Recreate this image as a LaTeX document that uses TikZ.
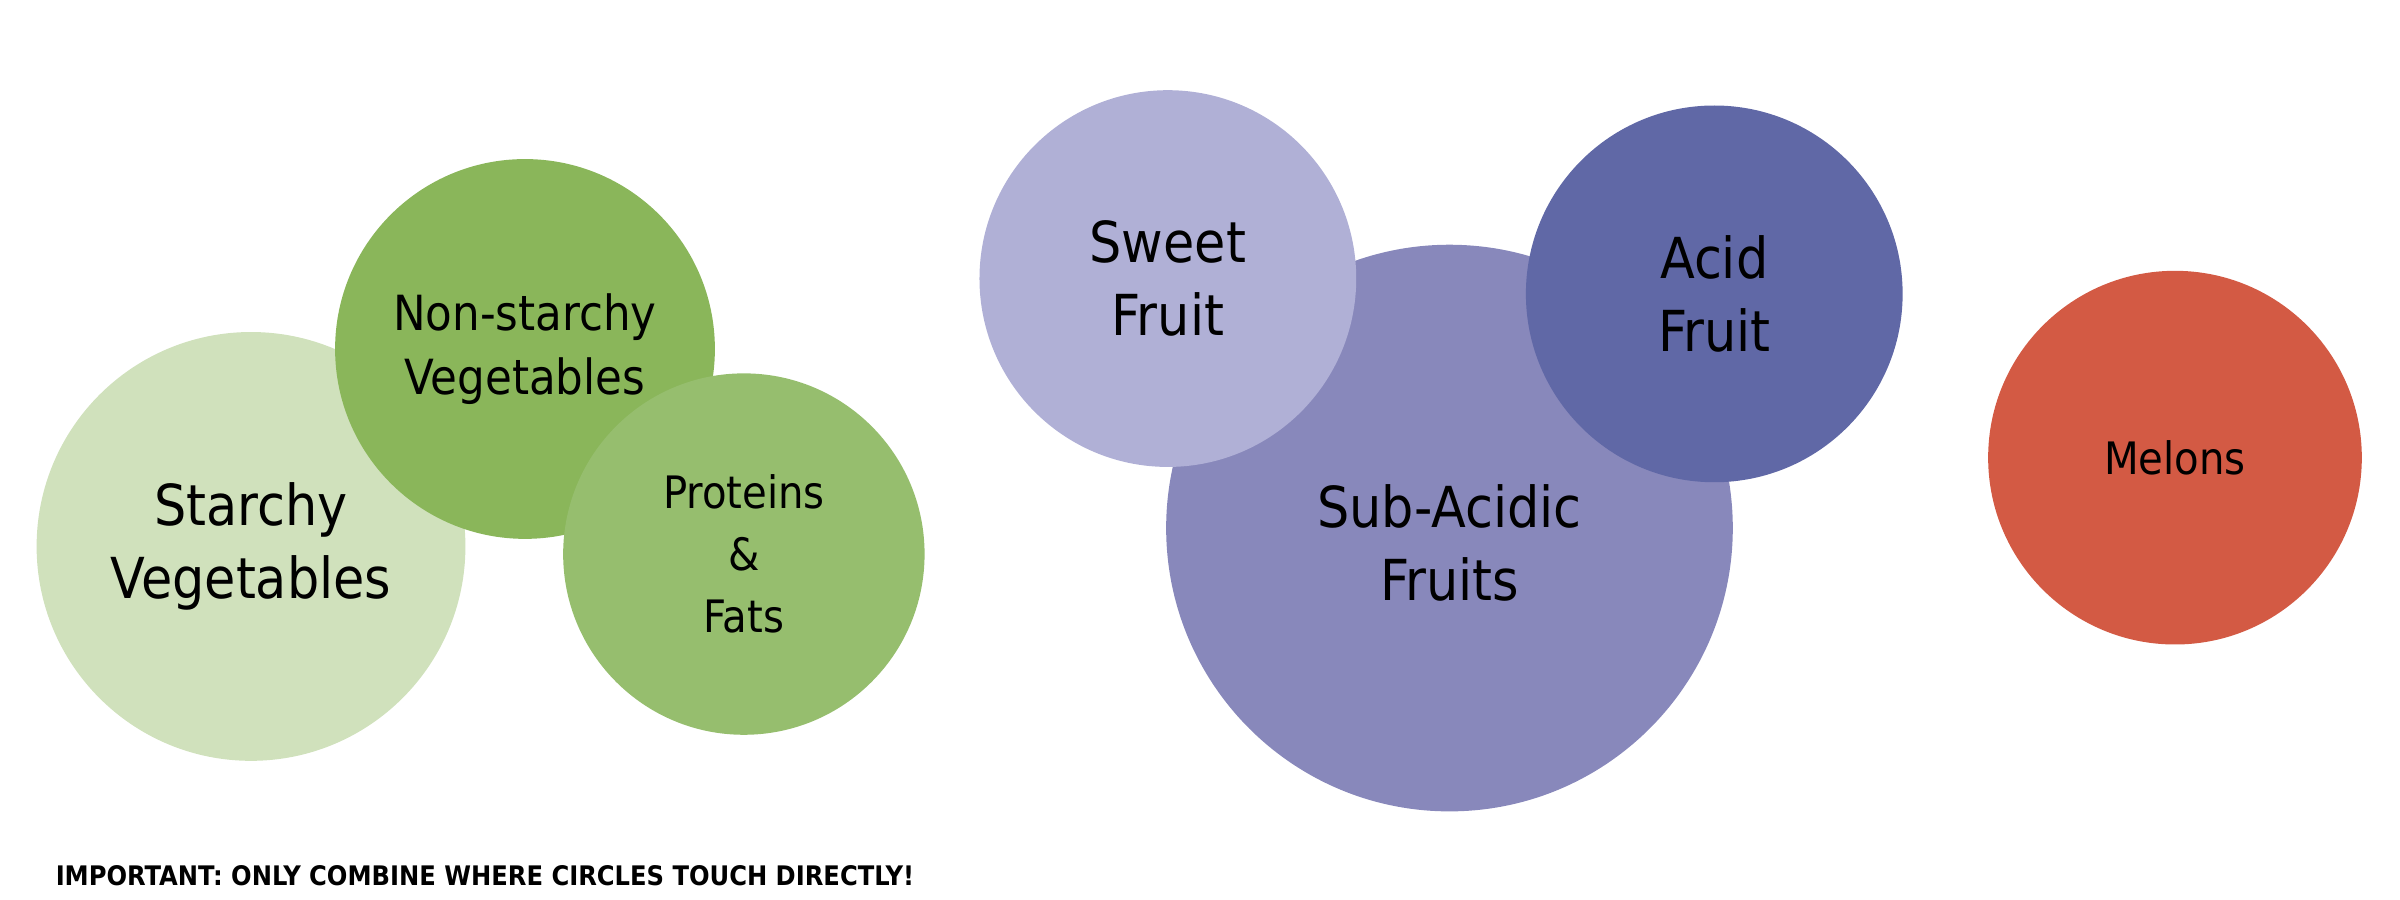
\documentclass[tikz,border=0pt]{standalone}
\usepackage{fontspec}
\setmainfont{DejaVu Sans Condensed}
\definecolor{cStarchy}{HTML}{D0E1BC}
\definecolor{cNon}{HTML}{8AB65A}
\definecolor{cProt}{HTML}{96BE6E}
\definecolor{cSweet}{HTML}{B0B0D6}
\definecolor{cSub}{HTML}{8888BB}
\definecolor{cAcid}{HTML}{6068A6}
\definecolor{cMelon}{HTML}{D35A44}
\begin{document}
\begin{tikzpicture}[x=0.01cm,y=-0.01cm,
  blob/.style={circle,inner sep=0pt,align=center,text=black},
  big/.style={font=\fontsize{10.5}{13.5}\selectfont},
  mid/.style={font=\fontsize{9}{12}\selectfont},
  sm/.style={font=\fontsize{8.3}{11.5}\selectfont}]
\useasboundingbox (0,0) rectangle (1568,588);
\node[blob,big,fill=cStarchy,minimum size=280\pgflinewidth*0+2.8cm] (starchy) at (164,357) {Starchy\\Vegetables};
\node[blob,mid,fill=cNon,minimum size=2.48cm] (non) at (343,228) {Non-starchy\\Vegetables};
\node[blob,sm,fill=cProt,minimum size=2.36cm] (prot) at (486,362) {Proteins\\\&\\Fats};
\node[blob,big,fill=cSub,minimum size=3.7cm] (sub) at (947,345) {\\Sub-Acidic\\Fruits};
\node[blob,big,fill=cSweet,minimum size=2.46cm] (sweet) at (763,182) {Sweet\\Fruit};
\node[blob,big,fill=cAcid,minimum size=2.46cm] (acid) at (1120,192) {Acid\\Fruit};
\node[blob,sm,fill=cMelon,minimum size=2.44cm] (melon) at (1421,299) {Melons};
\node[anchor=west,font=\bfseries\fontsize{5}{6}\selectfont] (note) at (24,572) {IMPORTANT: ONLY COMBINE WHERE CIRCLES TOUCH DIRECTLY!};
\end{tikzpicture}
\end{document}
